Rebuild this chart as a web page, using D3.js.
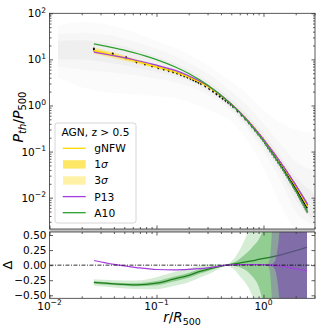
<!DOCTYPE html>
<html>
<head>
<meta charset="utf-8">
<script src="https://cdn.jsdelivr.net/npm/d3@7"></script>
<style>
  body { margin: 0; background: #fff; }
  text { font-family: "DejaVu Sans", sans-serif; fill: #000; }
</style>
</head>
<body>
<svg id="chart" width="332" height="332"></svg>
<script>
// ---- model curves (top panel) ----
const modelR   = [0.026, 0.04, 0.06, 0.1, 0.15, 0.2, 0.3, 0.5, 0.7, 1.0, 1.5, 2.0, 2.6];
const gnfw     = [15.47, 12.23, 9.55, 6.94, 5.31, 4.11, 2.59, 1.076, 0.499, 0.1863, 0.0503, 0.0176, 0.00624];
const gnfwLo1  = [14.43, 11.55, 9.12, 6.69, 5.14, 4.00, 2.54, 1.063, 0.492, 0.1821, 0.0485, 0.01681, 0.00589];
const gnfwHi1  = [16.58, 12.95, 10.0, 7.20, 5.49, 4.22, 2.64, 1.089, 0.506, 0.1906, 0.0522, 0.01843, 0.00661];
const gnfwLo3  = [13.17, 10.65, 8.51, 6.33, 4.90, 3.83, 2.47, 1.047, 0.482, 0.176, 0.0459, 0.01569, 0.00544];
const gnfwHi3  = [18.18, 14.04, 10.72, 7.61, 5.76, 4.41, 2.71, 1.106, 0.516, 0.197, 0.0551, 0.0197, 0.00716];
const p13      = [14.36, 11.99, 9.95, 7.48, 5.76, 4.42, 2.71, 1.076, 0.494, 0.1845, 0.0516, 0.01872, 0.0069];
const a10      = [21.7, 17.73, 14.15, 9.91, 6.85, 4.95, 2.79, 1.060, 0.471, 0.1686, 0.0426, 0.0142, 0.0048];

// ---- stacked data points with error bars ----
const dataR = [0.026,0.039,0.052,0.065,0.078,0.091,0.104,0.117,0.130,0.143,0.156,0.169,0.182,0.195,0.208,0.221,0.234,0.247,0.260,
  0.286,0.312,0.338,0.364,0.390,0.416,0.442,0.468,0.494,0.520,
  0.572,0.624,0.676,0.728,0.780,0.832,0.884,0.936,0.988,1.040,1.092,1.144,1.196,1.248,1.300,1.352,1.404,1.456,1.508,
  1.560,1.612,1.664,1.716,1.768,1.820,1.872,1.924,1.976,2.028,2.080,2.132,2.184,2.236,2.288,2.340,2.392,2.444,2.496,2.548];
const dataP = [16.7,13.1,10.9,8.89,7.93,7.20,6.61,6.12,5.71,5.37,5.02,4.67,4.38,4.11,3.84,3.59,3.37,3.16,2.99,
  2.63,2.32,2.03,1.78,1.58,1.42,1.28,1.16,1.05,0.945,
  0.76,0.622,0.518,0.43,0.355,0.297,0.251,0.215,0.185,0.153,0.130,0.112,0.0972,0.0847,0.0743,0.0654,0.0579,0.0515,0.0459,
  0.0405,0.036,0.032,0.0286,0.0257,0.0231,0.0208,0.0189,0.0171,0.0155,0.0140,0.0127,0.01155,0.01054,0.00962,0.0088,0.00806,0.0074,0.00682,0.00629];
const dataErr = [0.12,0.10,0.09,0.09,0.08,0.08,0.08,0.08,0.08,0.08,0.08,0.08,0.08,0.08,0.08,0.08,0.08,0.08,0.08,
  0.08,0.08,0.08,0.08,0.08,0.08,0.08,0.08,0.08,0.08,
  0.09,0.09,0.10,0.10,0.10,0.11,0.11,0.12,0.12,0.13,0.13,0.14,0.14,0.15,0.15,0.16,0.16,0.17,0.17,
  0.18,0.18,0.19,0.19,0.20,0.20,0.21,0.21,0.22,0.22,0.23,0.23,0.24,0.24,0.25,0.25,0.26,0.26,0.27,0.27];

// ---- spread of individual profiles (grey cloud) ----
const cloudR    = [0.012, 0.02, 0.03, 0.05, 0.1, 0.2, 0.3, 0.5, 0.7, 1.0, 1.5, 2.0, 3.03];
const cloudOutHi = [55, 65, 60, 45, 25, 13, 7.5, 3.3, 1.8, 0.8, 0.4, 0.3, 0.25];
const cloudOutLo = [4, 2.5, 2.0, 1.8, 1.6, 1.2, 0.8, 0.45, 0.18, 0.045, 0.006, 0.0022, 0.0021];
const cloudMidHi = [35, 38, 36, 28, 17, 8.5, 5, 2.0, 1.0, 0.4, 0.13, 0.06, 0.04];
const cloudMidLo = [7, 6, 5.5, 4.8, 3.8, 2.6, 1.7, 0.75, 0.32, 0.1, 0.02, 0.005, 0.0025];
const cloudInHi  = [25, 26, 24, 19, 11.5, 6, 3.4, 1.4, 0.65, 0.25, 0.07, 0.028, 0.012];
const cloudInLo  = [10, 10, 9, 7.5, 5.3, 3.4, 2.1, 0.85, 0.37, 0.13, 0.03, 0.009, 0.003];

// ---- residuals (bottom panel) ----
const deltaR    = [0.026, 0.04, 0.065, 0.1, 0.144, 0.2, 0.255, 0.3, 0.35, 0.45, 0.6, 0.75, 0.93, 1.23, 1.6, 2.0, 2.55];
const deltaA10  = [-0.287, -0.31, -0.326, -0.30, -0.232, -0.17, -0.105, -0.07, -0.04, 0, 0.035, 0.065, 0.099, 0.14, 0.19, 0.24, 0.30];
const deltaP13  = [0.077, 0.012, -0.04, -0.072, -0.078, -0.07, -0.058, -0.045, -0.03, 0, 0.008, 0.01, 0.01, 0, -0.03, -0.06, -0.094];

const bandR  = [0.026, 0.04, 0.065, 0.1, 0.144, 0.2, 0.255, 0.3, 0.35, 0.4, 0.45, 0.5, 0.55, 0.6, 0.65, 0.7, 0.75, 0.8, 0.9, 1.0, 1.1, 1.2, 1.3, 1.5, 2.0, 2.55];
const a10Hi3 = [-0.232, -0.25, -0.256, -0.20, -0.117, -0.055, -0.005, 0.015, 0.02, 0.012, 0.01, 0.062, 0.142, 0.255, 0.375, 0.505, 0.645, 0.774, 1.043, 1.305, 1.62, 2.14, 2.15, 2.18, 2.24, 2.30];
const a10Lo3 = [-0.342, -0.37, -0.396, -0.40, -0.347, -0.285, -0.205, -0.155, -0.10, -0.048, -0.01, -0.038, -0.098, -0.185, -0.255, -0.33, -0.43, -0.54, -0.78, -1.095, -1.38, -1.86, -1.85, -1.82, -1.76, -1.70];
const a10Hi1 = [-0.267, -0.29, -0.301, -0.265, -0.192, -0.13, -0.07, -0.04, -0.02, -0.008, 0.004, 0.032, 0.062, 0.105, 0.155, 0.205, 0.255, 0.314, 0.423, 0.605, 0.87, 1.236, 2.15, 2.18, 2.24, 2.30];
const a10Lo1 = [-0.307, -0.33, -0.351, -0.335, -0.272, -0.21, -0.14, -0.10, -0.06, -0.028, -0.004, -0.008, -0.018, -0.035, -0.065, -0.095, -0.145, -0.2, -0.35, -0.65, -1.0, -1.5, -1.85, -1.82, -1.76, -1.70];

const p13BandR = [1.0, 1.1, 1.15, 1.2, 1.25, 1.3, 1.35, 1.4, 1.45, 1.5, 2.0, 2.55];
const p13Hi3   = [0.015, 0.025, 0.12, 0.55, 1.0, 2, 2, 2, 2, 2, 2, 2];
const p13Lo3   = [0.005, -0.015, -0.12, -0.55, -1.0, -2, -2, -2, -2, -2, -2, -2];
const p13Hi1   = [0.012, 0.01, 0.012, 0.02, 0.04, 0.1, 0.25, 0.5, 1.0, 2, 2, 2];
const p13Lo1   = [0.008, 0.0, -0.008, -0.02, -0.045, -0.11, -0.27, -0.53, -1.0, -2, -2, -2];

// tick values
const deltaTicks = [-0.5, -0.25, 0, 0.25, 0.5];
const deltaTickLabels = ["\u22120.50", "\u22120.25", "0.00", "0.25", "0.50"];

// ---- colours ----
const cGold = "#ffd700", cP13 = "#a53ce0", cA10 = "#2ca02c", cP13band = "#783cb4";

const svg = d3.select("#chart");
const L = 49.5, R = 315, T1 = 13.3, B1 = 229, T2 = 232, B2 = 298.3;

const x = d3.scaleLog().domain([0.01, 3.03]).range([L, R]);
const y = d3.scaleLog().domain([Math.pow(10, -2.68), 100]).range([B1, T1]);
const yd = d3.scaleLinear().domain([-0.55, 0.55]).range([B2, T2]);

const defs = svg.append("defs");
defs.append("clipPath").attr("id", "clipTop").append("rect")
  .attr("x", L).attr("y", T1).attr("width", R - L).attr("height", B1 - T1);
defs.append("clipPath").attr("id", "clipBot").append("rect")
  .attr("x", L).attr("y", T2).attr("width", R - L).attr("height", B2 - T2);

const zip = (rs, a, b) => rs.map((r, i) => ({ r, a: a[i], b: b ? b[i] : null }));

// ================= top panel =================
const topG = svg.append("g").attr("clip-path", "url(#clipTop)");
const areaTop = d3.area().x(d => x(d.r)).y0(d => y(d.a)).y1(d => y(d.b)).curve(d3.curveMonotoneX);
const lineTop = d3.line().x(d => x(d.r)).y(d => y(d.a)).curve(d3.curveMonotoneX);

// grey cloud
[[cloudOutLo, cloudOutHi, 0.035], [cloudMidLo, cloudMidHi, 0.045], [cloudInLo, cloudInHi, 0.06]].forEach(([lo, hi, op]) => {
  topG.append("path").datum(zip(cloudR, lo, hi))
    .attr("d", areaTop).attr("fill", "#888").attr("opacity", op);
});

// gNFW bands
topG.append("path").datum(zip(modelR, gnfwLo3, gnfwHi3))
  .attr("d", areaTop).attr("fill", cGold).attr("opacity", 0.35);
topG.append("path").datum(zip(modelR, gnfwLo1, gnfwHi1))
  .attr("d", areaTop).attr("fill", cGold).attr("opacity", 0.6);

// data points
const pts = dataR.map((r, i) => ({ r, p: dataP[i], e: dataErr[i] }));
topG.append("g").selectAll("line")
  .data(pts).enter().append("line")
  .attr("x1", d => x(d.r)).attr("x2", d => x(d.r))
  .attr("y1", d => y(d.p * (1 + d.e))).attr("y2", d => y(d.p * (1 - d.e)))
  .attr("stroke", "#111").attr("stroke-width", 0.8).attr("opacity", 0.7);
topG.append("g").selectAll("circle")
  .data(pts).enter().append("circle")
  .attr("cx", d => x(d.r)).attr("cy", d => y(d.p)).attr("r", 1.1)
  .attr("fill", "#000");

// model lines
topG.append("path").datum(zip(modelR, gnfw))
  .attr("d", lineTop).attr("fill", "none").attr("stroke", cGold).attr("stroke-width", 1.4);
topG.append("path").datum(zip(modelR, p13))
  .attr("d", lineTop).attr("fill", "none").attr("stroke", cP13).attr("stroke-width", 1.2);
topG.append("path").datum(zip(modelR, a10))
  .attr("d", lineTop).attr("fill", "none").attr("stroke", cA10).attr("stroke-width", 1.2);

// ================= bottom panel =================
const botG = svg.append("g").attr("clip-path", "url(#clipBot)");
const areaBot = d3.area().x(d => x(d.r)).y0(d => yd(d.a)).y1(d => yd(d.b)).curve(d3.curveMonotoneX);
const lineBot = d3.line().x(d => x(d.r)).y(d => yd(d.a)).curve(d3.curveMonotoneX);

botG.append("path").datum(zip(bandR, a10Lo3, a10Hi3))
  .attr("d", areaBot).attr("fill", cA10).attr("opacity", 0.2);
botG.append("path").datum(zip(bandR, a10Lo1, a10Hi1))
  .attr("d", areaBot).attr("fill", cA10).attr("opacity", 0.4);
botG.append("path").datum(zip(deltaR, deltaA10))
  .attr("d", lineBot).attr("fill", "none").attr("stroke", "#1e7d1e").attr("stroke-width", 1.3);

botG.append("path").datum(zip(p13BandR, p13Lo3, p13Hi3))
  .attr("d", areaBot).attr("fill", cP13band).attr("opacity", 0.3);
botG.append("path").datum(zip(p13BandR, p13Lo1, p13Hi1))
  .attr("d", areaBot).attr("fill", cP13band).attr("opacity", 0.5);
botG.append("path").datum(zip(deltaR, deltaP13))
  .attr("d", lineBot).attr("fill", "none").attr("stroke", cP13).attr("stroke-width", 1.2);

// zero line
svg.append("line")
  .attr("x1", L).attr("x2", R).attr("y1", yd(0)).attr("y2", yd(0))
  .attr("stroke", "#000").attr("stroke-width", 0.8).attr("stroke-dasharray", "4,1.5,1,1.5");

// ================= axes & ticks =================
const isMajor = v => Math.abs(Math.log10(v) - Math.round(Math.log10(v))) < 1e-6;
const xTicks = x.ticks();
const yTicks = y.ticks();

function tickSet(gen, scale, vals, size, pos) {
  const g = svg.append("g").attr("transform", pos)
    .call(gen(scale).tickValues(vals).tickSize(-size).tickFormat(""));
  g.select(".domain").remove();
  g.selectAll(".tick line").attr("stroke", "#333").attr("stroke-width", 0.8);
}
const minorX = xTicks.filter(v => !isMajor(v)), majorX = xTicks.filter(isMajor);
const minorY = yTicks.filter(v => !isMajor(v)), majorY = yTicks.filter(isMajor);

// top panel ticks
tickSet(d3.axisBottom, x, minorX, 2, `translate(0,${B1})`);
tickSet(d3.axisBottom, x, majorX, 3.5, `translate(0,${B1})`);
tickSet(d3.axisTop, x, minorX, 2, `translate(0,${T1})`);
tickSet(d3.axisTop, x, majorX, 3.5, `translate(0,${T1})`);
tickSet(d3.axisLeft, y, minorY, 2, `translate(${L},0)`);
tickSet(d3.axisLeft, y, majorY, 3.5, `translate(${L},0)`);
tickSet(d3.axisRight, y, minorY, 2, `translate(${R},0)`);
tickSet(d3.axisRight, y, majorY, 3.5, `translate(${R},0)`);
// bottom panel ticks
tickSet(d3.axisBottom, x, minorX, 2, `translate(0,${B2})`);
tickSet(d3.axisBottom, x, majorX, 3.5, `translate(0,${B2})`);
tickSet(d3.axisTop, x, minorX, 2, `translate(0,${T2})`);
tickSet(d3.axisTop, x, majorX, 3.5, `translate(0,${T2})`);
tickSet(d3.axisLeft, yd, deltaTicks, 3.5, `translate(${L},0)`);
tickSet(d3.axisRight, yd, deltaTicks, 3.5, `translate(${R},0)`);

// gap between panels
svg.append("rect").attr("x", L).attr("y", B1).attr("width", R - L).attr("height", T2 - B1)
  .attr("fill", "#c4c4c4");
// frames
[[T1, B1], [T2, B2]].forEach(([t, b]) => {
  svg.append("rect").attr("x", L).attr("y", t).attr("width", R - L).attr("height", b - t)
    .attr("fill", "none").attr("stroke", "#333").attr("stroke-width", 0.8);
});

// power-of-ten labels
function powLabel(sel, exp) {
  sel.append("tspan").text("10");
  sel.append("tspan").attr("dy", -4.5).attr("font-size", "7.6px")
    .text(exp < 0 ? "\u2212" + Math.abs(exp) : String(exp));
}
majorY.forEach(v => {
  const t = svg.append("text").attr("x", 46).attr("y", y(v) + 4)
    .attr("text-anchor", "end").attr("font-size", "10.5px");
  powLabel(t, Math.round(Math.log10(v)));
});
majorX.forEach(v => {
  const t = svg.append("text").attr("x", x(v)).attr("y", 309.5)
    .attr("text-anchor", "middle").attr("font-size", "10.5px");
  powLabel(t, Math.round(Math.log10(v)));
});
deltaTicks.forEach((v, i) => {
  svg.append("text").attr("x", 46.5).attr("y", yd(v) + 3.8)
    .attr("text-anchor", "end").attr("font-size", "10.5px").text(deltaTickLabels[i]);
});

// axis titles
const yl = svg.append("text").attr("transform", "translate(23,117) rotate(-90)")
  .attr("text-anchor", "middle").attr("font-size", "14px");
yl.append("tspan").attr("font-style", "italic").text("P");
yl.append("tspan").attr("font-style", "italic").attr("font-size", "10px").attr("dy", 3).text("th");
yl.append("tspan").attr("dy", -3).text("/");
yl.append("tspan").attr("font-style", "italic").text("P");
yl.append("tspan").attr("font-size", "10px").attr("dy", 3).text("500");

svg.append("text").attr("transform", "translate(12,265) rotate(-90)")
  .attr("text-anchor", "middle").attr("font-size", "13px").text("\u0394");

const xl = svg.append("text").attr("x", 182).attr("y", 322)
  .attr("text-anchor", "middle").attr("font-size", "13.5px");
xl.append("tspan").attr("font-style", "italic").text("r");
xl.append("tspan").text("/");
xl.append("tspan").attr("font-style", "italic").text("R");
xl.append("tspan").attr("font-size", "9.5px").attr("dy", 3).text("500");

// ================= legend =================
const lg = svg.append("g");
lg.append("rect").attr("x", 55).attr("y", 123).attr("width", 81).attr("height", 100)
  .attr("rx", 2.5).attr("fill", "#fff").attr("fill-opacity", 0.8)
  .attr("stroke", "#cccccc").attr("stroke-width", 0.8);
lg.append("text").attr("x", 95.5).attr("y", 135.5).attr("text-anchor", "middle")
  .attr("font-size", "10.6px").text("AGN, z > 0.5");

const legendItems = [
  { type: "line", color: cGold, op: 1, label: "gNFW" },
  { type: "patch", color: cGold, op: 0.6, label: "1", sig: true },
  { type: "patch", color: cGold, op: 0.35, label: "3", sig: true },
  { type: "line", color: cP13, op: 1, label: "P13" },
  { type: "line", color: cA10, op: 1, label: "A10" }
];
legendItems.forEach((d, i) => {
  const cy = 148.3 + i * 16.1;
  if (d.type === "line") {
    lg.append("line").attr("x1", 62.7).attr("x2", 85.7).attr("y1", cy).attr("y2", cy)
      .attr("stroke", d.color).attr("stroke-width", 1.3);
  } else {
    lg.append("rect").attr("x", 63).attr("y", cy - 4.2).attr("width", 22.7).attr("height", 8.4)
      .attr("fill", d.color).attr("opacity", d.op);
  }
  const t = lg.append("text").attr("x", 94.3).attr("y", cy + 3.9).attr("font-size", "10.7px");
  t.append("tspan").text(d.label);
  if (d.sig) t.append("tspan").attr("font-style", "italic").text("\u03c3");
});
</script>
</body>
</html>
